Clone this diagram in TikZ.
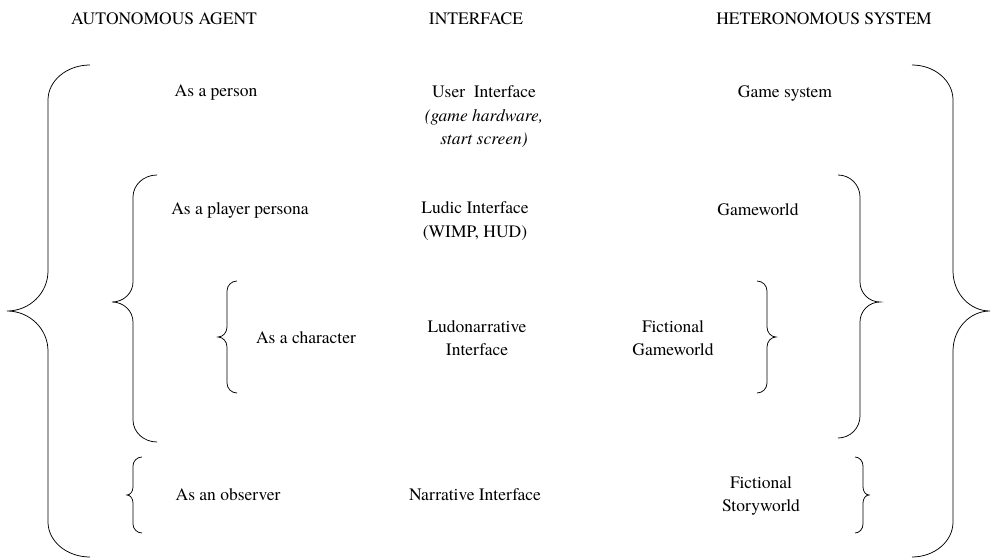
\documentclass[tikz,border=0pt]{standalone}
\usepackage{fontspec}
\setmainfont{TeX Gyre Termes}
% curly brace: end x, stem x, tip x, top y, tip y, bottom y, end-curve height, tip-curve height
\newcommand\curlybrace[8]{%
  \draw[bracestyle] (#1,#4) .. controls ({#1+0.552*(#2-#1)},#4) and (#2,{#4+0.448*#7}) .. (#2,{#4+#7})
    -- (#2,{#5-#8}) .. controls (#2,{#5-0.448*#8}) and ({#3+0.552*(#2-#3)},#5) .. (#3,#5)
    .. controls ({#3+0.552*(#2-#3)},#5) and (#2,{#5+0.448*#8}) .. (#2,{#5+#8})
    -- (#2,{#6-#7}) .. controls (#2,{#6-0.448*#7}) and ({#1+0.552*(#2-#1)},#6) .. (#1,#6);}
\begin{document}
\begin{tikzpicture}[x=1pt,y=-1pt,
  bracestyle/.style={draw=black,line width=0.75pt},
  lbl/.style={inner sep=0pt,align=center,font=\fontsize{17.5}{23.5}\selectfont}]
\useasboundingbox (0,0) rectangle (991,559);

% column headings
\node[lbl] (hagent) at (164,19) {AUTONOMOUS AGENT};
\node[lbl] (hiface) at (476,19) {INTERFACE};
\node[lbl] (hsys)   at (824,19) {HETERONOMOUS SYSTEM};

% person level
\node[lbl] (person) at (216,93) {As a person};
\node[lbl] (ui) at (484,117) {User\ \ Interface\\\textit{(game hardware,}\\\textit{start screen)}};
\node[lbl] (gamesys) at (785,93) {Game system};

% player persona level
\node[lbl] (persona) at (240,210) {As a player persona};
\node[lbl] (ludic) at (475,221) {Ludic Interface\\(WIMP, HUD)};
\node[lbl] (gameworld) at (758,210) {Gameworld};

% character level
\node[lbl] (character) at (306,338) {As a character};
\node[lbl] (ludonar) at (477,338) {Ludonarrative\\Interface};
\node[lbl] (fictgw) at (673,338) {Fictional\\Gameworld};

% observer level
\node[lbl] (observer) at (228,495) {As an observer};
\node[lbl] (narr) at (475,495) {Narrative Interface};
\node[lbl] (story) at (761,496) {Fictional\\Storyworld};

% braces, outermost first
\curlybrace{90}{48}{7}{65}{311}{557}{35}{40}
\curlybrace{912}{953}{990}{65}{311}{557}{35}{40}
\curlybrace{157}{133}{112}{175}{302}{442}{22}{20}
\curlybrace{838}{860}{880}{175}{302}{438}{22}{20}
\curlybrace{237}{227}{218}{281}{337}{393}{10}{10}
\curlybrace{757}{767}{776}{281}{337}{393}{10}{10}
\curlybrace{142}{133}{127}{457}{495}{533}{9}{8}
\curlybrace{855}{863}{869}{457}{495}{533}{9}{8}
\end{tikzpicture}
\end{document}
